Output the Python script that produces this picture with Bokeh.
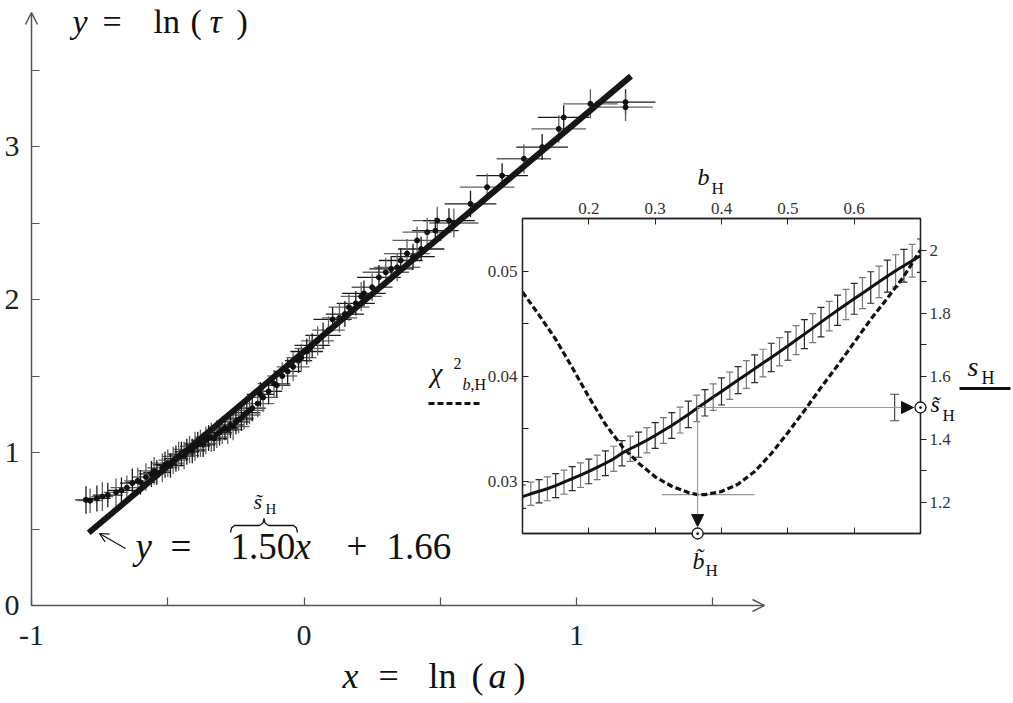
from bokeh.plotting import figure
from bokeh.models import (Range1d, LinearAxis, FixedTicker, Label, Arrow, OpenHead,
                          NormalHead, TeeHead, Whisker, ColumnDataSource)
from bokeh.embed import file_html
from bokeh.resources import INLINE

FONT = "Liberation Serif"

# ---------------- main panel data: x = ln(a), y = ln(tau) ----------------
ln_a = [-0.800, -0.785, -0.760, -0.740, -0.720, -0.690, -0.670, -0.650, -0.630, -0.610,
        -0.600, -0.580, -0.560, -0.550, -0.540, -0.520, -0.510, -0.500, -0.490, -0.480,
        -0.470, -0.460, -0.450, -0.440, -0.430, -0.420, -0.410, -0.400, -0.390, -0.380,
        -0.370, -0.360, -0.350, -0.340, -0.330, -0.320, -0.310, -0.300, -0.290, -0.280,
        -0.270, -0.260, -0.250, -0.240, -0.230, -0.220, -0.210, -0.200, -0.190, -0.170,
        -0.160, -0.150, -0.130, -0.110, -0.100, -0.080, -0.060, -0.040, -0.020, -0.010,
        0.010, 0.020, 0.030, 0.050, 0.070, 0.090, 0.105, 0.130, 0.150, 0.165,
        0.190, 0.210, 0.220, 0.250, 0.275, 0.300, 0.320, 0.342, 0.355, 0.378,
        0.400, 0.415, 0.430, 0.452, 0.482, 0.489, 0.532, 0.550, 0.611, 0.672,
        0.727, 0.807, 0.874, 0.935, 0.953, 1.051, 1.180, 1.180]
ln_tau = [0.690, 0.685, 0.700, 0.712, 0.722, 0.740, 0.752, 0.770, 0.800, 0.815,
          0.805, 0.840, 0.860, 0.880, 0.870, 0.900, 0.920, 0.930, 0.915, 0.950,
          0.960, 0.975, 0.990, 0.980, 1.005, 1.020, 1.010, 1.040, 1.050, 1.060,
          1.050, 1.080, 1.095, 1.100, 1.090, 1.120, 1.130, 1.145, 1.160, 1.150,
          1.180, 1.170, 1.200, 1.215, 1.225, 1.245, 1.260, 1.275, 1.290, 1.320,
          1.380, 1.360, 1.400, 1.450, 1.440, 1.500, 1.530, 1.560, 1.600, 1.620,
          1.660, 1.680, 1.700, 1.730, 1.765, 1.800, 1.870, 1.880, 1.905, 1.950,
          1.975, 2.020, 2.040, 2.080, 2.145, 2.178, 2.200, 2.210, 2.255, 2.300,
          2.280, 2.386, 2.330, 2.440, 2.450, 2.516, 2.516, 2.500, 2.625, 2.734,
          2.810, 2.920, 2.996, 3.115, 3.190, 3.279, 3.290, 3.257]
ln_a_err = [0.040, 0.045, 0.050, 0.040, 0.055, 0.045, 0.050, 0.060, 0.045, 0.050,
            0.055, 0.050, 0.045, 0.060, 0.050, 0.055, 0.045, 0.060, 0.050, 0.055,
            0.045, 0.060, 0.050, 0.055, 0.045, 0.060, 0.050, 0.055, 0.050, 0.060,
            0.045, 0.055, 0.050, 0.060, 0.050, 0.055, 0.045, 0.060, 0.050, 0.055,
            0.050, 0.060, 0.050, 0.055, 0.045, 0.060, 0.050, 0.055, 0.050, 0.060,
            0.050, 0.055, 0.050, 0.060, 0.050, 0.055, 0.050, 0.060, 0.050, 0.055,
            0.060, 0.055, 0.065, 0.060, 0.065, 0.060, 0.070, 0.065, 0.070, 0.075,
            0.070, 0.075, 0.080, 0.075, 0.080, 0.085, 0.080, 0.085, 0.080, 0.085,
            0.080, 0.090, 0.085, 0.090, 0.085, 0.090, 0.095, 0.090, 0.095, 0.100,
            0.095, 0.100, 0.095, 0.100, 0.095, 0.100, 0.110, 0.100]
ln_tau_err = [0.090, 0.080, 0.085, 0.095, 0.080, 0.090, 0.085, 0.080, 0.095, 0.085,
              0.080, 0.090, 0.085, 0.090, 0.080, 0.095, 0.085, 0.090, 0.080, 0.090,
              0.085, 0.095, 0.080, 0.090, 0.085, 0.090, 0.080, 0.095, 0.085, 0.090,
              0.080, 0.090, 0.085, 0.095, 0.080, 0.090, 0.085, 0.090, 0.080, 0.095,
              0.085, 0.090, 0.080, 0.090, 0.085, 0.095, 0.080, 0.090, 0.085, 0.090,
              0.080, 0.095, 0.085, 0.090, 0.080, 0.090, 0.085, 0.095, 0.080, 0.090,
              0.085, 0.090, 0.080, 0.095, 0.085, 0.090, 0.080, 0.095, 0.085, 0.090,
              0.080, 0.095, 0.085, 0.090, 0.080, 0.095, 0.085, 0.090, 0.080, 0.095,
              0.085, 0.090, 0.080, 0.095, 0.085, 0.090, 0.080, 0.095, 0.085, 0.090,
              0.080, 0.095, 0.085, 0.090, 0.080, 0.095, 0.085, 0.090]
fit_slope = 1.50
fit_intercept = 1.66
fit_x = [-0.79, 1.20]
main_xticks = [-1, 0, 1]
main_xminor = [-0.5, 0.5, 1.5]
main_yticks = [0, 1, 2, 3]
main_yminor = [0.5, 1.5, 2.5, 3.5]

# ---------------- inset data ----------------
b_grid = [0.1000, 0.1125, 0.1250, 0.1375, 0.1500, 0.1625, 0.1750, 0.1875, 0.2000, 0.2125,
          0.2250, 0.2375, 0.2500, 0.2625, 0.2750, 0.2875, 0.3000, 0.3125, 0.3250, 0.3375,
          0.3500, 0.3625, 0.3750, 0.3875, 0.4000, 0.4125, 0.4250, 0.4375, 0.4500, 0.4625,
          0.4750, 0.4875, 0.5000, 0.5125, 0.5250, 0.5375, 0.5500, 0.5625, 0.5750, 0.5875,
          0.6000, 0.6125, 0.6250, 0.6375, 0.6500, 0.6625, 0.6750, 0.6875, 0.7000]
s_H = [1.217, 1.226, 1.234, 1.242, 1.252, 1.263, 1.274, 1.285, 1.297, 1.310,
       1.323, 1.337, 1.355, 1.369, 1.382, 1.396, 1.411, 1.427, 1.443, 1.460,
       1.478, 1.497, 1.515, 1.533, 1.551, 1.569, 1.587, 1.605, 1.623, 1.641,
       1.659, 1.677, 1.695, 1.714, 1.733, 1.752, 1.771, 1.790, 1.809, 1.827,
       1.845, 1.863, 1.881, 1.899, 1.917, 1.934, 1.950, 1.966, 1.982]
s_H_err = [0.037, 0.037, 0.037, 0.038, 0.038, 0.038, 0.038, 0.039, 0.039, 0.039,
           0.039, 0.040, 0.040, 0.040, 0.040, 0.040, 0.041, 0.041, 0.041, 0.041,
           0.042, 0.042, 0.042, 0.042, 0.043, 0.043, 0.043, 0.044, 0.044, 0.044,
           0.045, 0.045, 0.045, 0.046, 0.046, 0.046, 0.047, 0.047, 0.048, 0.048,
           0.049, 0.049, 0.050, 0.050, 0.051, 0.051, 0.052, 0.052, 0.053]
b_chi = [0.100, 0.125, 0.150, 0.175, 0.200, 0.225, 0.250, 0.275, 0.300, 0.325,
         0.350, 0.364, 0.375, 0.400, 0.425, 0.450, 0.475, 0.500, 0.525, 0.550,
         0.575, 0.600, 0.625, 0.650, 0.675, 0.700]
chi2 = [0.0480, 0.0458, 0.0435, 0.0408, 0.0380, 0.0354, 0.0333, 0.0317, 0.0304, 0.0295,
        0.0289, 0.0287, 0.0287, 0.0290, 0.0297, 0.0309, 0.0326, 0.0346, 0.0367, 0.0389,
        0.0410, 0.0432, 0.0454, 0.0474, 0.0495, 0.0520]
b_tilde = 0.364
s_tilde = 1.50
s_tilde_err = 0.042
s_tilde_bar_b = 0.661
chi_min_span = [0.31, 0.45]
b_ticks = [0.2, 0.3, 0.4, 0.5, 0.6]
chi_ticks = [0.03, 0.04, 0.05]
chi_minor = [0.035, 0.045]
s_ticks = [1.2, 1.4, 1.6, 1.8, 2.0]
s_minor = [1.3, 1.5, 1.7, 1.9]

INK = "#111111"
AX = "#555555"

# ======================= main figure =======================
W, H = 1013, 703
AXX = 31          # page x of the y axis
AXY = 605         # page y of the x axis
XS, YS = 272.5, 153.0
X0 = -1.0


def mx(px):
    return X0 + (px - AXX) / XS


def my(py):
    return (AXY - py) / YS


p = figure(width=W, height=H, output_backend="svg", toolbar_location=None,
           x_range=Range1d(mx(0), mx(W)), y_range=Range1d(my(H), my(0)),
           min_border_left=0, min_border_right=0, min_border_top=0, min_border_bottom=0)
p.background_fill_alpha = 0
p.border_fill_alpha = 0
p.outline_line_color = None
p.grid.visible = False
p.xaxis[0].fixed_location = 0
p.yaxis[0].fixed_location = X0

for ax, tk, mn in ((p.xaxis[0], main_xticks, main_xminor), (p.yaxis[0], main_yticks, main_yminor)):
    ax.ticker = FixedTicker(ticks=tk, minor_ticks=mn)
    ax.axis_line_alpha = 0
    ax.major_tick_in = 8
    ax.major_tick_out = 0
    ax.minor_tick_in = 8
    ax.minor_tick_out = 0
    ax.major_tick_line_color = AX
    ax.minor_tick_line_color = AX
    ax.major_tick_line_width = 1.2
    ax.minor_tick_line_width = 1.2
    ax.major_label_text_font = FONT
    ax.major_label_text_font_size = "30px"
    ax.major_label_text_color = "#222222"
p.xaxis[0].major_label_standoff = 20
p.xaxis[0].major_label_overrides = {-1: "-1"}
p.yaxis[0].major_label_standoff = 12

# axis arrows
p.add_layout(Arrow(end=OpenHead(size=12, line_color=AX, line_width=1.5),
                   x_start=X0, y_start=0, x_end=mx(764), y_end=0,
                   line_color=AX, line_width=1.5))
p.add_layout(Arrow(end=OpenHead(size=12, line_color=AX, line_width=1.5),
                   x_start=X0, y_start=0, x_end=X0, y_end=my(12),
                   line_color=AX, line_width=1.5))

cols = ["#1a1a1a" if i % 2 == 0 else "#606060" for i in range(len(ln_a))]
src = ColumnDataSource(dict(
    x=ln_a, y=ln_tau,
    x0=[a - e for a, e in zip(ln_a, ln_a_err)], x1=[a + e for a, e in zip(ln_a, ln_a_err)],
    y0=[t - e for t, e in zip(ln_tau, ln_tau_err)], y1=[t + e for t, e in zip(ln_tau, ln_tau_err)],
    c=cols))
p.segment(x0="x0", y0="y", x1="x1", y1="y", source=src, line_color="c", line_width=1.3)
p.segment(x0="x", y0="y0", x1="x", y1="y1", source=src, line_color="c", line_width=1.3)
fit_y = [fit_slope * x + fit_intercept for x in fit_x]
p.line(fit_x, fit_y, line_width=6, line_color="#161616")
p.scatter("x", "y", source=src, size=5, color=INK)

BASE_SHIFT = 0.38   # Label baseline correction, as a fraction of the font size


def mlab(px, py, text, size, italic=False):
    p.add_layout(Label(x=mx(px), y=my(py - BASE_SHIFT * size), text=text, text_font=FONT,
                       text_font_size=f"{size}px",
                       text_font_style="italic" if italic else "normal",
                       text_color=INK, text_baseline="alphabetic", text_align="left"))


# axis titles
mlab(72, 34, "y", 34, True)
mlab(102, 34, "=", 34)
mlab(153, 34, "ln", 34)
mlab(190, 34, "(", 34)
mlab(209, 34, "τ", 34, True)
mlab(236, 34, ")", 34)

mlab(342, 689, "x", 36, True)
mlab(378, 689, "=", 36)
mlab(428, 689, "ln", 36)
mlab(471, 689, "(", 36)
mlab(488, 689, "a", 36, True)
mlab(513, 689, ")", 36)

# fit equation
p.add_layout(Arrow(end=OpenHead(size=9, line_color=INK, line_width=1.2),
                   x_start=mx(125), y_start=my(548), x_end=mx(99), y_end=my(533),
                   line_color=INK, line_width=1.2))
mlab(135, 560, "y", 37, True)
mlab(170, 560, "=", 37)
mlab(230, 560, "1.50", 37)
mlab(294, 560, "x", 37, True)
mlab(346, 560, "+", 37)
mlab(386, 560, "1.66", 37)
brace_px = [230, 231, 234, 259, 262.5, 263.5, 264.5, 268, 293, 296, 297]
brace_py = [532, 527.5, 525, 525, 522.5, 518, 522.5, 525, 525, 527.5, 532]
p.line([mx(v) for v in brace_px], [my(v) for v in brace_py], line_color=INK, line_width=1.3)
mlab(253, 509, "s\u0303", 22, True)
mlab(265, 514, "H", 15)

# inset labels and legend samples (drawn on the main canvas, around the inset)
p.line([mx(428), mx(480)], [my(403), my(403)], line_dash="6 3", line_width=3.2, line_color=INK)
p.line([mx(959), mx(1010)], [my(388), my(388)], line_width=3, line_color=INK)
mlab(697, 186, "b", 24, True)
mlab(711, 194, "H", 17)
mlab(430, 383, "χ", 27, True)
mlab(453, 369, "2", 16)
mlab(462, 390, "b", 16, True)
mlab(470, 390, ",H", 16)
mlab(692, 570, "b\u0303", 24, True)
mlab(705, 576, "H", 17)
mlab(930, 413, "s\u0303", 24, True)
mlab(942, 421, "H", 17)
mlab(967, 377, "s", 28, True)
mlab(981, 384, "H", 18)

# ======================= inset figure =======================
IL, IT, IR, IB = 122, 68, 93, 57
IFW, IFH = 398, 315
INSET_LEFT, INSET_TOP = 400, 150
pi = figure(width=IL + IFW + IR, height=IT + IFH + IB, output_backend="svg", toolbar_location=None,
            x_range=Range1d(0.1, 0.7), y_range=Range1d(0.025, 0.055),
            x_axis_location=None, y_axis_location=None,
            min_border_left=IL, min_border_right=IR, min_border_top=IT, min_border_bottom=IB)
pi.extra_y_ranges = {"s": Range1d(1.1, 2.1)}
pi.grid.visible = False
pi.border_fill_alpha = 0
pi.background_fill_color = "white"
pi.outline_line_color = "#222222"
pi.outline_line_width = 1.3


def style_inset_axis(ax, tin, tout, standoff):
    ax.axis_line_color = "#222222"
    ax.axis_line_width = 1.3
    ax.major_tick_in = tin
    ax.major_tick_out = tout
    ax.minor_tick_in = tin
    ax.minor_tick_out = tout
    ax.major_tick_line_color = "#222222"
    ax.minor_tick_line_color = "#222222"
    ax.major_label_text_font = FONT
    ax.major_label_text_font_size = "17px"
    ax.major_label_text_color = "#333333"
    ax.major_label_standoff = standoff


ax_l = LinearAxis(ticker=FixedTicker(ticks=chi_ticks, minor_ticks=chi_minor))
style_inset_axis(ax_l, 6, 0, 5)
pi.add_layout(ax_l, "left")
ax_r = LinearAxis(y_range_name="s", ticker=FixedTicker(ticks=s_ticks, minor_ticks=s_minor),
                  major_label_overrides={2.0: "2"})
style_inset_axis(ax_r, 0, 6, 3)
pi.add_layout(ax_r, "right")
ax_t = LinearAxis(ticker=FixedTicker(ticks=b_ticks, minor_ticks=[]))
style_inset_axis(ax_t, 6, 0, 5)
pi.add_layout(ax_t, "above")
ax_b = LinearAxis(ticker=FixedTicker(ticks=b_ticks, minor_ticks=[]))
style_inset_axis(ax_b, 6, 0, 5)
ax_b.major_label_text_alpha = 0
pi.add_layout(ax_b, "below")

# guide lines for the optimum
chi_min = min(chi2)
pi.line(chi_min_span, [chi_min, chi_min], line_color="#999999", line_width=1.1)
pi.add_layout(Arrow(end=NormalHead(size=12, fill_color=INK, line_color=INK),
                    x_start=b_tilde, y_start=s_tilde, x_end=b_tilde, y_end=1.1 + 7.0 / IFH,
                    y_range_name="s", line_color="#999999", line_width=1.1))
pi.add_layout(Arrow(end=NormalHead(size=12, fill_color=INK, line_color=INK),
                    x_start=b_tilde, y_start=s_tilde, x_end=0.7 - 7.0 / IFW * 0.6, y_end=s_tilde,
                    y_range_name="s", line_color="#999999", line_width=1.1))
pi.add_layout(Whisker(base="b", lower="lo", upper="hi", dimension="height", y_range_name="s",
                      source=ColumnDataSource(dict(b=[s_tilde_bar_b], lo=[s_tilde - s_tilde_err],
                                                   hi=[s_tilde + s_tilde_err])),
                      line_color="#444444", line_width=1.2,
                      upper_head=TeeHead(size=9, line_color="#444444", line_width=1.2),
                      lower_head=TeeHead(size=9, line_color="#444444", line_width=1.2)))

# chi^2 curve
pi.line(b_chi, chi2, line_dash="6 3", line_width=3.2, line_color=INK)

# s_H error bars, alternating tones
for parity, colr in ((0, "#2a2a2a"), (1, "#7a7a7a")):
    idx = [i for i in range(len(b_grid)) if i % 2 == parity]
    ws = ColumnDataSource(dict(b=[b_grid[i] for i in idx],
                               lo=[s_H[i] - s_H_err[i] for i in idx],
                               hi=[s_H[i] + s_H_err[i] for i in idx]))
    pi.add_layout(Whisker(base="b", lower="lo", upper="hi", dimension="height", y_range_name="s",
                          source=ws, line_color=colr, line_width=1.2,
                          upper_head=TeeHead(size=7, line_color=colr, line_width=1.2),
                          lower_head=TeeHead(size=7, line_color=colr, line_width=1.2)))
pi.line(b_grid, s_H, y_range_name="s", line_width=3, line_color=INK)

pi.scatter([b_tilde], [0.025], marker="circle_dot", size=11, fill_color="white",
           line_color=INK, line_width=1.3, level="overlay")
pi.scatter([0.7], [s_tilde], y_range_name="s", marker="circle_dot", size=11, fill_color="white",
           line_color=INK, line_width=1.3, level="overlay")

pi.styles = {"position": "absolute", "left": f"{INSET_LEFT}px", "top": f"{INSET_TOP}px"}

open("out.html", "w").write(file_html([p, pi], INLINE))
